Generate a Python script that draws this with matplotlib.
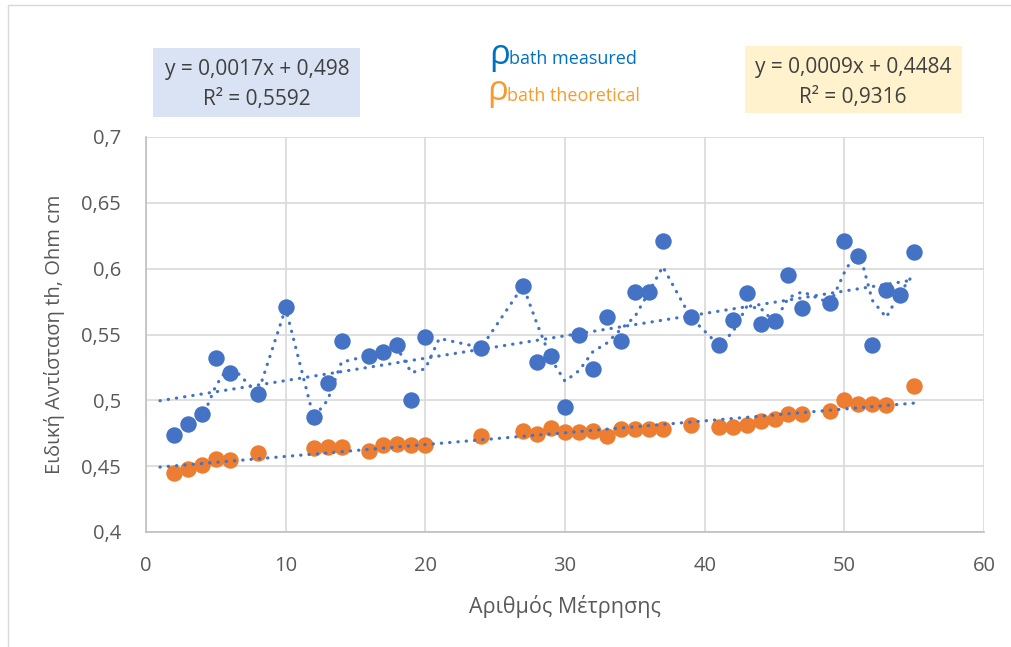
import matplotlib
matplotlib.use("Agg")
import matplotlib.pyplot as plt
from matplotlib.patches import Rectangle
from matplotlib.ticker import FuncFormatter, MultipleLocator

plt.rcParams['font.family'] = ['Open Sans', 'DejaVu Sans']

# Measured bath resistivity
meas_x = [2, 3, 4, 5, 6, 8, 10, 12, 13, 14, 16, 17, 18, 19, 20, 24, 27, 28, 29, 30,
          31, 32, 33, 34, 35, 36, 37, 39, 41, 42, 43, 44, 45, 46, 47, 49, 50, 51, 52,
          53, 54, 55]
meas_y = [0.474, 0.482, 0.490, 0.532, 0.521, 0.505, 0.571, 0.487, 0.513, 0.545,
          0.534, 0.537, 0.542, 0.500, 0.548, 0.540, 0.587, 0.529, 0.534, 0.495,
          0.550, 0.524, 0.563, 0.545, 0.582, 0.582, 0.621, 0.563, 0.542, 0.561,
          0.5815, 0.558, 0.5606, 0.595, 0.570, 0.5737, 0.621, 0.610, 0.542, 0.584,
          0.580, 0.613]

# Theoretical bath resistivity
theo_x = [2, 3, 4, 5, 6, 8, 12, 13, 14, 16, 17, 18, 19, 20, 24, 27, 28, 29, 30, 31,
          32, 33, 34, 35, 36, 37, 39, 41, 42, 43, 44, 45, 46, 47, 49, 50, 51, 52, 53,
          55]
theo_y = [0.445, 0.448, 0.4506, 0.4552, 0.4544, 0.460, 0.4638, 0.4643, 0.4643,
          0.4618, 0.4663, 0.4668, 0.4658, 0.4663, 0.4726, 0.477, 0.4747, 0.479,
          0.4757, 0.4757, 0.4764, 0.4726, 0.4785, 0.4782, 0.4782, 0.4785, 0.4815,
          0.480, 0.480, 0.4815, 0.4846, 0.4858, 0.4899, 0.4896, 0.4916, 0.500,
          0.4975, 0.4972, 0.4962, 0.5106]

# Two-point moving average of the measured series
ma_x = [3, 4, 5, 6, 8, 10, 12, 13, 14, 16, 17, 18, 19, 20, 21, 24, 27, 28, 29, 30,
        31, 32, 33, 34, 35, 36, 37, 39, 41, 42, 43, 44, 45, 46, 47, 49, 50, 51, 52,
        53, 54, 55]
ma_y = [0.478, 0.486, 0.511, 0.527, 0.505, 0.570, 0.487, 0.500, 0.529, 0.534,
        0.5355, 0.5395, 0.521, 0.524, 0.547, 0.540, 0.587, 0.558, 0.5315, 0.5145,
        0.5225, 0.537, 0.5435, 0.554, 0.5635, 0.582, 0.6015, 0.563, 0.542, 0.5515,
        0.571, 0.570, 0.5593, 0.578, 0.5825, 0.5737, 0.597, 0.6155, 0.576, 0.563,
        0.582, 0.5965]

# Linear trend coefficients (slope, intercept) and span
meas_fit = (0.0017, 0.498)
theo_fit = (0.0009, 0.4484)
fit_span = [1, 55]
meas_r2 = "0,5592"
theo_r2 = "0,9316"

BLUE = '#4472C4'
ORANGE = '#ED7D31'
GRID = '#D9D9D9'
TEXT = '#595959'

W, H = 1011, 647
fig = plt.figure(figsize=(W / 100, H / 100), dpi=100)
fig.patch.set_facecolor('white')


def fx(px):
    return px / W


def fy(py):
    return 1 - py / H


# outer chart frame
fig.patches.append(Rectangle((fx(8), fy(700)), fx(1100), fy(5) - fy(700),
                             transform=fig.transFigure, fill=False,
                             edgecolor=GRID, lw=1.0))

ax = fig.add_axes([fx(146), fy(532), fx(984) - fx(146), fy(137) - fy(532)])
ax.set_xlim(0, 60)
ax.set_ylim(0.4, 0.7)
ax.xaxis.set_major_locator(MultipleLocator(10))
ax.yaxis.set_major_locator(MultipleLocator(0.05))


def comma(v, _pos):
    s = f"{v:.2f}".rstrip('0').rstrip('.')
    return s.replace('.', ',')


ax.xaxis.set_major_formatter(FuncFormatter(lambda v, p: f"{v:.0f}"))
ax.yaxis.set_major_formatter(FuncFormatter(comma))
ax.grid(True, color=GRID, lw=1.2)
ax.set_axisbelow(True)
for side in ['top', 'right']:
    ax.spines[side].set_visible(False)
for side in ['left', 'bottom']:
    ax.spines[side].set_color('#BFBFBF')
    ax.spines[side].set_linewidth(1.2)
ax.tick_params(length=0, labelsize=14.5, labelcolor=TEXT)
ax.tick_params(axis='y', pad=18)
ax.tick_params(axis='x', pad=17)

ax.scatter(meas_x, meas_y, s=140, color=BLUE, zorder=3, linewidths=0)
ax.scatter(theo_x, theo_y, s=140, color=ORANGE, zorder=3, linewidths=0)

dot = dict(color=BLUE, lw=2.3, linestyle=(0, (0.1, 2.5)), dash_capstyle='round',
           zorder=4)
ax.plot(fit_span, [meas_fit[0] * v + meas_fit[1] for v in fit_span], **dot)
ax.plot(fit_span, [theo_fit[0] * v + theo_fit[1] for v in fit_span], **dot)
ax.plot(ma_x, ma_y, **dot)

ax.set_xlabel('Αριθμός Μέτρησης', fontsize=15.5, color=TEXT, labelpad=14)
ax.set_ylabel('Ειδική Αντίσταση th, Ohm cm', fontsize=14.5, color=TEXT, labelpad=12)

# equation boxes
fig.patches.append(Rectangle((fx(153), fy(117)), fx(360) - fx(153), fy(48) - fy(117),
                             transform=fig.transFigure, facecolor='#DAE3F3',
                             edgecolor='none'))
fig.patches.append(Rectangle((fx(745), fy(113)), fx(962) - fx(745), fy(46) - fy(113),
                             transform=fig.transFigure, facecolor='#FFF2CC',
                             edgecolor='none'))


def eq(slope, icpt):
    return f"y = {slope}x + {icpt}".replace('.', ',')


fig.text(fx(257), fy(70), eq(*meas_fit), fontsize=15, color='#404040',
         ha='center', va='center')
fig.text(fx(257), fy(99), f"R² = {meas_r2}", fontsize=15, color='#404040',
         ha='center', va='center')
fig.text(fx(853), fy(68), eq(*theo_fit), fontsize=15, color='#404040',
         ha='center', va='center')
fig.text(fx(853), fy(97), f"R² = {theo_r2}", fontsize=15, color='#404040',
         ha='center', va='center')

# series labels
fig.text(fx(489), fy(64), 'ρ', fontsize=25, color='#0070C0', ha='left', va='baseline')
fig.text(fx(509), fy(64), 'bath measured', fontsize=13, color='#0070C0',
         ha='left', va='baseline')
fig.text(fx(487), fy(100), 'ρ', fontsize=25, color='#F79B2E', ha='left', va='baseline')
fig.text(fx(507), fy(101), 'bath theoretical', fontsize=13, color='#F79B2E',
         ha='left', va='baseline')

fig.savefig('out.png', dpi=100)
